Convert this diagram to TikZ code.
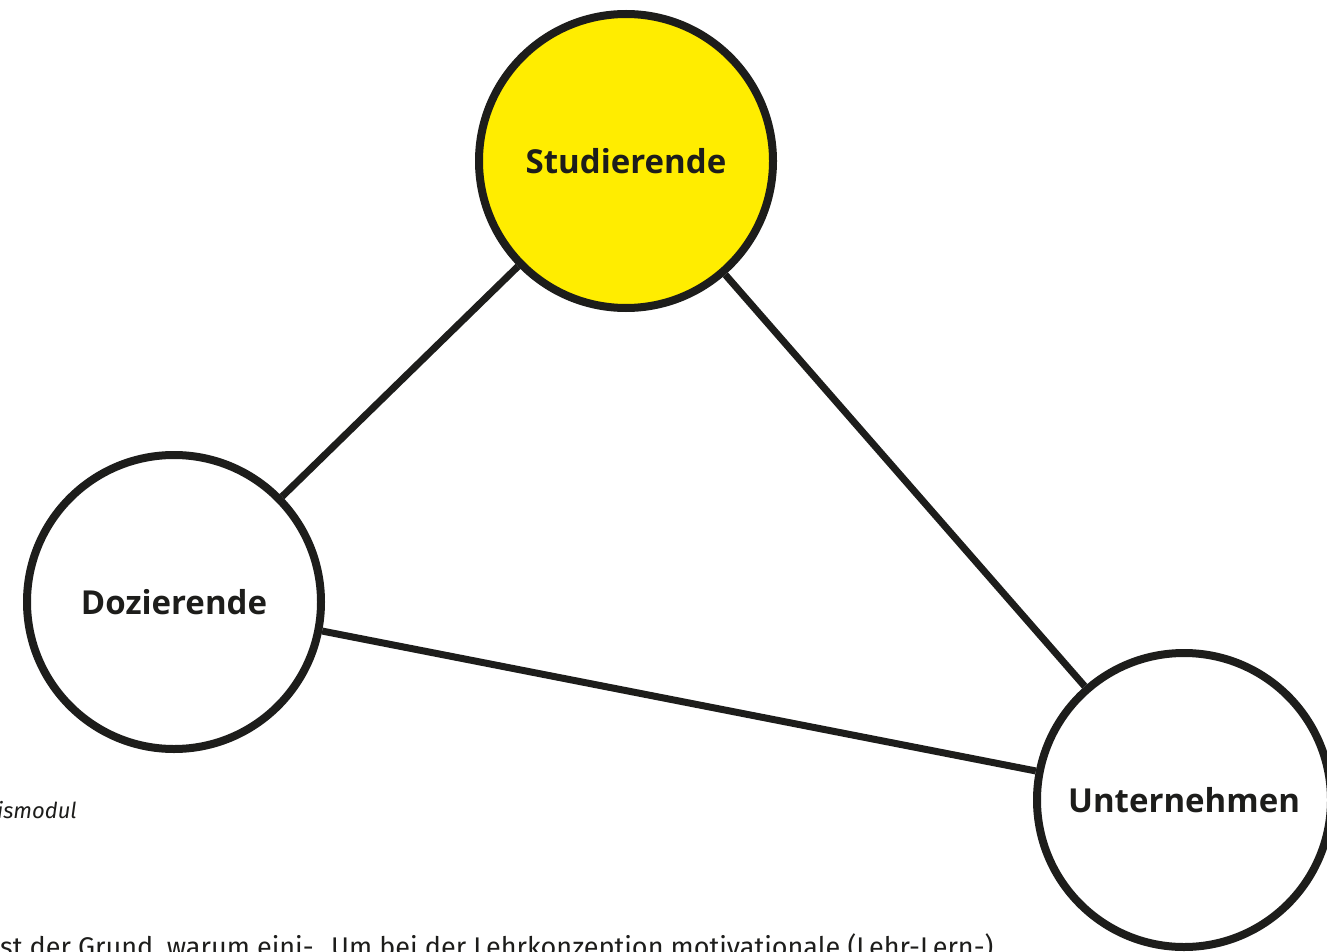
\documentclass[tikz,border=0pt]{standalone}
\usepackage{fontspec}
\setmainfont{Fira Sans}
\newfontfamily\labfont{Open Sans}
\definecolor{ink}{HTML}{1D1D1B}
\definecolor{gelb}{HTML}{FFED00}
\begin{document}
\begin{tikzpicture}[x=1pt,y=-1pt,
  role/.style={circle,draw=ink,line width=8pt,minimum size=294pt,inner sep=0pt,
    font=\labfont\bfseries\fontsize{33}{40}\selectfont,text=ink},
  link/.style={draw=ink,line width=7pt},
  body/.style={anchor=base west,inner sep=0pt,font=\fontsize{27}{32}\selectfont,text=ink}]
\useasboundingbox (0,0) rectangle (1327,952);
\clip (0,0) rectangle (1327,952);
\node[role,fill=gelb] (stud) at (626,161) {\raisebox{-5pt}{Studierende}};
\node[role,fill=white] (doz) at (174,602) {\raisebox{-5pt}{Dozierende}};
\node[role,fill=white] (unt) at (1184,800) {\raisebox{-4pt}{Unternehmen}};
\draw[link] (stud) -- (doz);
\draw[link] (stud) -- (unt);
\draw[link] (doz) -- (unt);
\node[anchor=base west,inner sep=0pt,font=\fontsize{22}{24}\selectfont\itshape,text=ink] (cap) at (-3,818) {ismodul};
\node[body] (t1) at (0,956) {st der Grund, warum eini-};
\node[body] (t2) at (331,956) {Um bei der Lehrkonzeption motivationale (Lehr-Lern-)};
\end{tikzpicture}
\end{document}
